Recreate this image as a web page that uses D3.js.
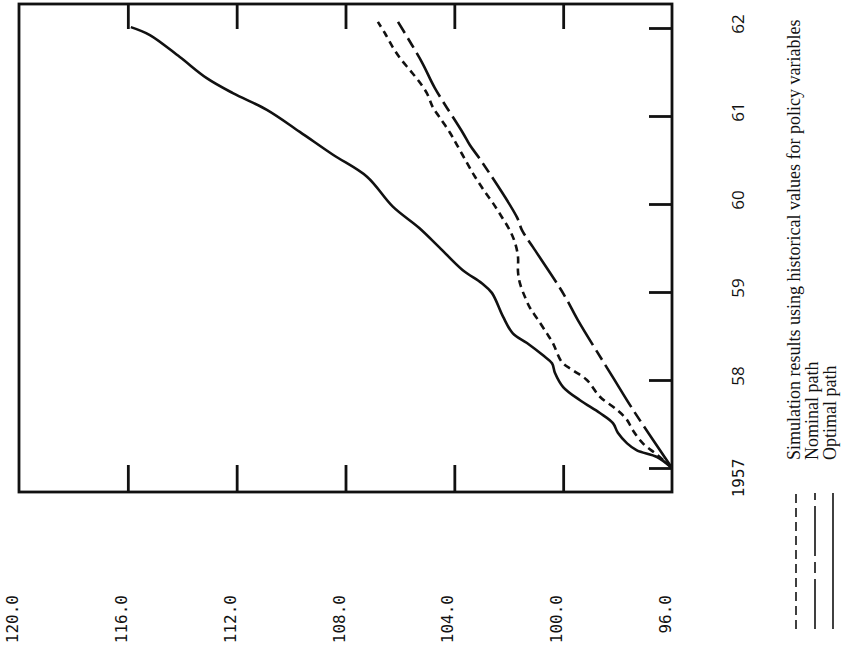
<!DOCTYPE html>
<html><head><meta charset="utf-8">
<script src="https://cdn.jsdelivr.net/npm/d3@7"></script>
<style>body{margin:0;background:#fff}</style>
</head><body>
<svg id="c" width="844" height="656"></svg>
<script>
// ---- data ----
const valueTicks = [96, 100, 104, 108, 112, 116, 120];
const valueTickLabels = ["96.0", "100.0", "104.0", "108.0", "112.0", "116.0", "120.0"];
const innerValueTicks = [100, 104, 108, 112, 116];
const years = [1957, 1958, 1959, 1960, 1961, 1962];
const yearLabels = ["1957", "58", "59", "60", "61", "62"];

const optimalYears = [1957.00, 1957.125, 1957.20, 1957.28, 1957.40, 1957.51, 1957.625, 1957.77, 1957.92, 1958.08, 1958.19, 1958.28, 1958.42, 1958.53, 1958.72, 1958.99, 1959.10, 1959.25, 1959.51, 1959.73, 1959.97, 1960.31, 1960.56, 1960.82, 1961.07, 1961.26, 1961.43, 1961.67, 1961.92, 1962.01];
const optimalValues = [96.0, 96.55, 97.29, 97.65, 97.99, 98.17, 98.65, 99.38, 100.0, 100.3, 100.41, 100.74, 101.33, 101.85, 102.21, 102.62, 102.99, 103.7, 104.56, 105.3, 106.26, 107.21, 108.46, 109.68, 110.89, 112.14, 113.10, 114.09, 115.19, 115.89];

const simulationYears = [1957.00, 1957.15, 1957.28, 1957.43, 1957.55, 1957.66, 1957.81, 1958.00, 1958.11, 1958.20, 1958.42, 1958.53, 1958.70, 1958.82, 1958.94, 1959.10, 1959.23, 1959.40, 1959.56, 1959.70, 1959.85, 1960.01, 1960.14, 1960.31, 1960.47, 1960.67, 1960.81, 1960.98, 1961.10, 1961.26, 1961.41, 1961.52, 1961.66, 1961.78, 1961.94, 1962.07];
const simulationValues = [96.0, 96.55, 97.07, 97.44, 97.66, 98.02, 98.65, 99.13, 99.64, 100.04, 100.38, 100.60, 100.96, 101.22, 101.40, 101.59, 101.66, 101.66, 101.77, 101.96, 102.25, 102.58, 102.88, 103.24, 103.54, 103.90, 104.16, 104.53, 104.79, 105.01, 105.34, 105.63, 106.00, 106.26, 106.55, 106.81];

const nominalYears = [1957.00, 1957.66, 1958.03, 1958.68, 1958.91, 1959.08, 1959.51, 1959.70, 1959.85, 1960.48, 1960.67, 1960.81, 1961.32, 1961.61, 1962.07];
const nominalValues = [96.0, 97.43, 98.17, 99.46, 99.86, 100.19, 101.11, 101.51, 101.70, 102.99, 103.43, 103.69, 104.72, 105.19, 106.07];

const seriesNames = ["Simulation results using historical values for policy variables", "Nominal path", "Optimal path"];

// ---- drawing ----
const svg = d3.select("#c");
const frame = {left: 19, right: 672, top: 4, bottom: 492};
const ink = "#111";

// value axis runs horizontally (chart is rotated), time axis runs vertically
const v = d3.scaleLinear().domain([96, 120]).range([672, 19]);
const t = d3.scaleLinear().domain([1957, 1962]).range([468, 28]);

// frame
svg.append("rect")
  .attr("x", frame.left).attr("y", frame.top)
  .attr("width", frame.right - frame.left).attr("height", frame.bottom - frame.top)
  .attr("fill", "none").attr("stroke", ink).attr("stroke-width", 2.8);

// inward ticks via d3 axes
function styleAxis(g) {
  g.select(".domain").remove();
  g.selectAll(".tick line").attr("stroke", ink).attr("stroke-width", 2.8);
  g.selectAll(".tick text").remove();
}
svg.append("g").attr("transform", `translate(0,${frame.top})`)
  .call(d3.axisTop(v).tickValues(innerValueTicks).tickSize(-25).tickFormat(""))
  .call(styleAxis);
svg.append("g").attr("transform", `translate(0,${frame.bottom})`)
  .call(d3.axisBottom(v).tickValues(innerValueTicks).tickSize(-27).tickFormat(""))
  .call(styleAxis);
svg.append("g").attr("transform", `translate(${frame.right},0)`)
  .call(d3.axisRight(t).tickValues(years).tickSize(-23).tickFormat(""))
  .call(styleAxis);

// value labels (rotated, below the frame)
svg.append("g").selectAll("text").data(valueTicks).join("text")
  .attr("transform", d => `translate(${v(d) - 1},595) rotate(-90)`)
  .attr("text-anchor", "end")
  .attr("font-family", "DejaVu Sans Mono, monospace")
  .attr("font-size", 16).attr("fill", ink)
  .text((d, i) => valueTickLabels[i]);

// year labels (rotated, right of the frame)
svg.append("g").selectAll("text").data(years).join("text")
  .attr("transform", d => `translate(744,${d === 1957 ? t(d) + 10 : t(d) - 4}) rotate(-90)`)
  .attr("text-anchor", "middle")
  .attr("font-family", (d, i) => i === 0 ? "DejaVu Sans Mono, monospace" : "Open Sans, sans-serif")
  .attr("font-size", (d, i) => i === 0 ? 16 : 17).attr("fill", ink)
  .text((d, i) => yearLabels[i]);

// lines
const series = [
  {name: seriesNames[0], years: simulationYears, values: simulationValues, dash: "7,5"},
  {name: seriesNames[1], years: nominalYears, values: nominalValues, dash: "50,6,11,6"},
  {name: seriesNames[2], years: optimalYears, values: optimalValues, dash: null}
];
const line = d3.line().x(d => v(d[1])).y(d => t(d[0])).curve(d3.curveCatmullRom);
svg.append("g").selectAll("path").data(series).join("path")
  .attr("d", s => line(s.years.map((y, i) => [y, s.values[i]])))
  .attr("fill", "none").attr("stroke", ink).attr("stroke-width", 2.6)
  .attr("stroke-linecap", "butt").attr("stroke-linejoin", "round")
  .attr("stroke-dasharray", s => s.dash);

// legend
const legendX = [796, 815, 833];
const textX = [800, 818, 836];
const lg = svg.append("g");
lg.selectAll("line").data(series).join("line")
  .attr("x1", (d, i) => legendX[i]).attr("x2", (d, i) => legendX[i])
  .attr("y1", 629).attr("y2", 493)
  .attr("stroke", ink).attr("stroke-width", 1.6)
  .attr("stroke-dasharray", s => s.dash === "7,5" ? "9,5" : s.dash);
lg.selectAll("text").data(series).join("text")
  .attr("transform", (d, i) => `translate(${textX[i]},460) rotate(-90)`)
  .attr("font-family", "Liberation Serif, Times New Roman, serif")
  .attr("font-size", 18).attr("fill", ink)
  .text(d => d.name);
</script>
</body></html>
